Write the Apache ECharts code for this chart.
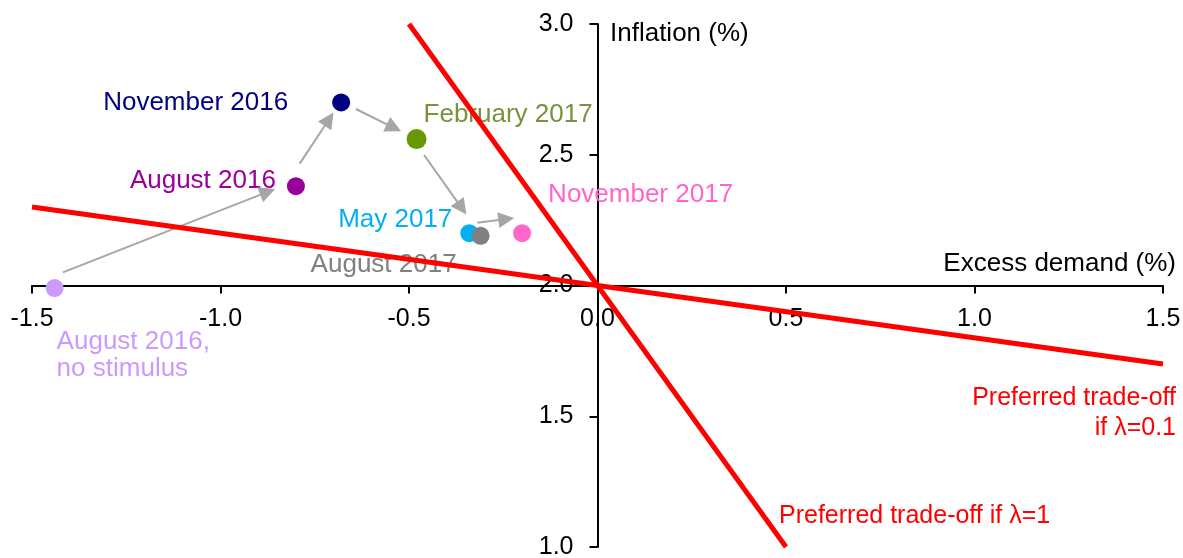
<!DOCTYPE html>
<html>
<head>
<meta charset="utf-8">
<script src="https://cdn.jsdelivr.net/npm/echarts@6/dist/echarts.min.js"></script>
<style>
html,body{margin:0;padding:0;background:#fff;}
#chart{width:1183px;height:558px;}
</style>
</head>
<body>
<div id="chart"></div>
<script>
// ---- data ----
const pointNames = ['August 2016,\nno stimulus', 'August 2016', 'November 2016', 'February 2017', 'May 2017', 'August 2017', 'November 2017'];
const excessDemand = [-1.44, -0.80, -0.68, -0.48, -0.34, -0.31, -0.20];
const inflation = [1.99, 2.38, 2.70, 2.56, 2.20, 2.19, 2.20];
const pointColors = ['#cc99ff', '#990099', '#000080', '#669900', '#00b0f0', '#808080', '#ff66cc'];
const labelColors = ['#cc99ff', '#990099', '#000080', '#77933c', '#00b0f0', '#808080', '#ff66cc'];

const arrowStarts = [[-1.418, 2.05], [-0.790, 2.466], [-0.641, 2.675], [-0.460, 2.499], [-0.319, 2.240]];
const arrowEnds = [[-0.875, 2.358], [-0.712, 2.636], [-0.540, 2.603], [-0.360, 2.296], [-0.242, 2.254]];

const tradeoff01 = [[-1.5, 2.3], [1.5, 1.7]];
const tradeoff1 = [[-0.5, 3.0], [0.5, 1.0]];

const xTicks = { min: -1.5, max: 1.5, interval: 0.5 };
const yTicks = { min: 1.0, max: 3.0, interval: 0.5 };

// ---- label placement (pixel offsets from marker centre) ----
const labelPlacement = [
  { align: 'left', offset: [2, 67] },
  { align: 'right', offset: [-20, -5] },
  { align: 'right', offset: [-53, 0] },
  { align: 'left', offset: [7, -24] },
  { align: 'right', offset: [-17, -13] },
  { align: 'right', offset: [-24, 29] },
  { align: 'left', offset: [26, -38] }
];
const sizes = [18, 18, 18, 20, 18, 18, 18];

const FONT = 'Liberation Sans, Arial, sans-serif';
const chart = echarts.init(document.getElementById('chart'));

const scatterData = pointNames.map((n, i) => ({
  name: n,
  value: [excessDemand[i], inflation[i]],
  symbolSize: sizes[i],
  itemStyle: { color: pointColors[i], opacity: 1 },
  label: {
    show: true,
    formatter: n,
    position: 'inside',
    align: labelPlacement[i].align,
    verticalAlign: 'middle',
    offset: labelPlacement[i].offset,
    color: labelColors[i],
    opacity: 1,
    fontSize: 26,
    lineHeight: 27,
    fontFamily: FONT
  }
}));

const option = {
  animation: false,
  backgroundColor: '#fff',
  grid: { left: 32, right: 20, top: 24, bottom: 11, containLabel: false, outerBoundsMode: 'none' },
  xAxis: {
    type: 'value',
    min: xTicks.min, max: xTicks.max, interval: xTicks.interval,
    offset: -261.5,
    axisLine: { onZero: false, lineStyle: { color: '#000', width: 2 } },
    axisTick: { show: true, length: 8, lineStyle: { color: '#000', width: 2 } },
    axisLabel: { color: '#000', fontSize: 25, fontFamily: FONT, margin: 21, showMinLabel: true, showMaxLabel: true,
      formatter: v => v.toFixed(1) },
    splitLine: { show: false }
  },
  yAxis: {
    type: 'value',
    min: yTicks.min, max: yTicks.max, interval: yTicks.interval,
    offset: -565.5,
    axisLine: { onZero: false, lineStyle: { color: '#000', width: 2 } },
    axisTick: { show: true, length: 8, lineStyle: { color: '#000', width: 2 } },
    axisLabel: { color: '#000', fontSize: 25, fontFamily: FONT, margin: 24, showMinLabel: true, showMaxLabel: true,
      formatter: v => v.toFixed(1) },
    splitLine: { show: false }
  },
  graphic: [
    { type: 'text', z: 0, x: 610, y: 34, style: { text: 'Inflation (%)', font: '26px ' + FONT, fill: '#000', textAlign: 'left', textVerticalAlign: 'middle' } },
    { type: 'text', z: 0, x: 1176, y: 264, style: { text: 'Excess demand (%)', font: '26px ' + FONT, fill: '#000', textAlign: 'right', textVerticalAlign: 'middle' } },
    { type: 'text', z: 0, x: 1176, y: 413, style: { text: 'Preferred trade-off\nif λ=0.1', font: '25px ' + FONT, fill: '#ff0000', textAlign: 'right', textVerticalAlign: 'middle', lineHeight: 30 } },
    { type: 'text', z: 0, x: 779, y: 516, style: { text: 'Preferred trade-off if λ=1', font: '25px ' + FONT, fill: '#ff0000', textAlign: 'left', textVerticalAlign: 'middle' } }
  ],
  series: [
    {
      type: 'scatter', z: 1,
      symbol: 'circle',
      data: scatterData
    },
    {
      type: 'lines', coordinateSystem: 'cartesian2d', z: 3,
      symbol: ['none', 'triangle'], symbolSize: 16,
      lineStyle: { color: '#a6a6a6', width: 2, opacity: 1 },
      itemStyle: { color: '#a6a6a6' },
      data: arrowStarts.map((s, i) => ({ coords: [s, arrowEnds[i]] }))
    },
    {
      type: 'line', z: 5, symbol: 'none', silent: true,
      lineStyle: { color: '#ff0000', width: 5 },
      data: tradeoff01
    },
    {
      type: 'line', z: 5, symbol: 'none', silent: true,
      lineStyle: { color: '#ff0000', width: 5 },
      data: tradeoff1
    }
  ]
};
chart.setOption(option);
</script>
</body>
</html>
